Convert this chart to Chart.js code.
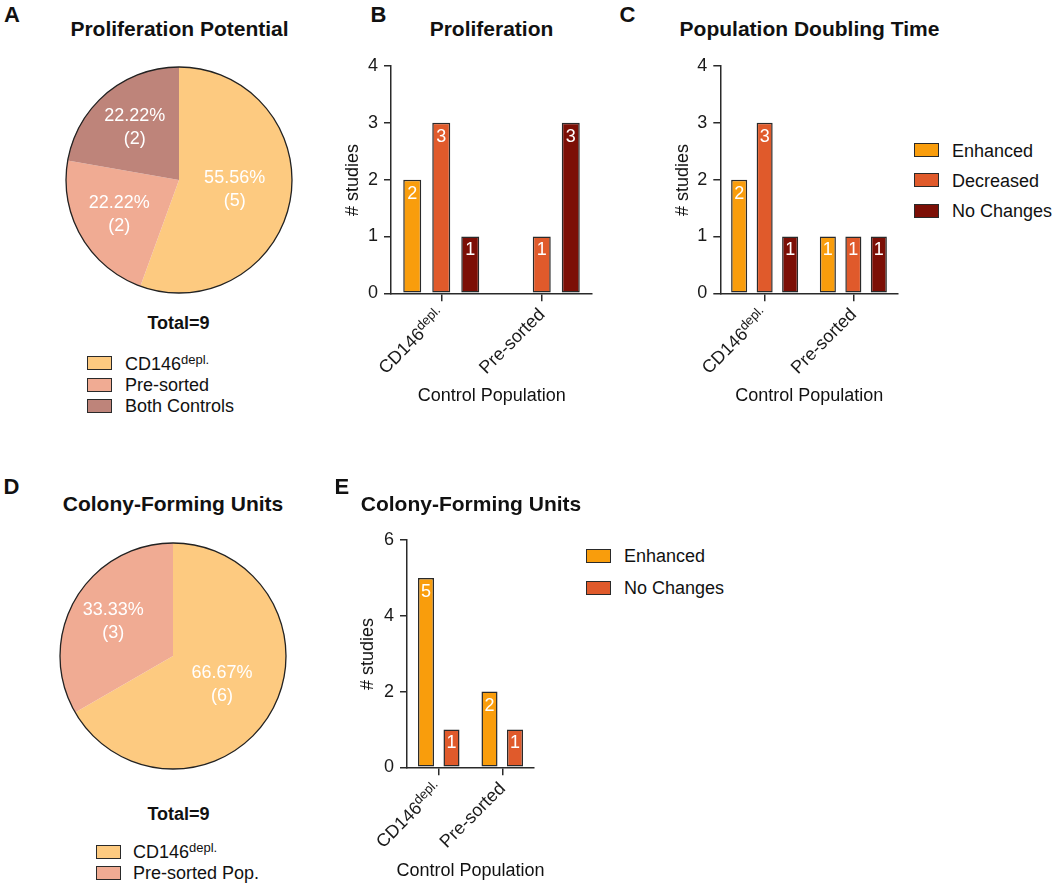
<!DOCTYPE html>
<html>
<head>
<meta charset="utf-8">
<script src="https://cdn.jsdelivr.net/npm/chart.js@4.4.1/dist/chart.umd.min.js"></script>
<style>
  body { margin: 0; background: #fff; }
  #page { position: relative; width: 1059px; height: 885px; overflow: hidden;
          font-family: "Liberation Sans", Arial, Helvetica, sans-serif; color: #111; }
  .t { position: absolute; white-space: nowrap; line-height: 1; }
  .sup { font-size: 13px; position: relative; top: -6px; }
  .box { position: absolute; width: 25px; height: 14px; box-sizing: border-box; border: 1.3px solid #2a2a2a; }
  canvas { position: absolute; }
</style>
</head>
<body>
<div id="page"></div>
<script>
// --- Data ---
const groupNames = ["CD146", "Pre-sorted"];
const groupSup = ["depl.", ""];

const potentialLabels = ["CD146", "Pre-sorted", "Both Controls"];
const potentialSup = ["depl.", "", ""];
const potentialCounts = [5, 2, 2];

const prolifEnhanced = [2, null];
const prolifDecreased = [3, 1];
const prolifNoChange = [1, 3];

const pdtEnhanced = [2, 1];
const pdtDecreased = [3, 1];
const pdtNoChange = [1, 1];

const cfuPieLabels = ["CD146", "Pre-sorted Pop."];
const cfuPieSup = ["depl.", ""];
const cfuPieCounts = [6, 3];

const cfuEnhanced = [5, 2];
const cfuNoChange = [1, 1];

const ticksBC = [0, 1, 2, 3, 4];
const ticksE = [0, 2, 4, 6];

// --- Style ---
const FONT = '"Liberation Sans", Arial, Helvetica, sans-serif';
const ORANGE = "#f99d0c", RED = "#e05a2b", MAROON = "#7c0f06";
const PIE_COLORS = ["#fdca80", "#f0ab93", "#be847a"];
const INK = "#1a1a1a", AXIS = "#2a2a2a";

Chart.defaults.font.family = FONT;

const page = document.getElementById("page");

// y is the centre of the capitals
function text(html, x, y, size, opts = {}) {
  const d = document.createElement("div");
  d.className = "t";
  d.innerHTML = html;
  d.style.fontSize = size + "px";
  d.style.fontWeight = opts.bold ? "bold" : "normal";
  d.style.left = x + "px";
  d.style.top = (y - 0.4885 * size) + "px";
  if (opts.center) d.style.transform = "translateX(-50%)";
  if (opts.rotate) {
    d.style.top = (y - size / 2) + "px";
    d.style.transform = "translate(-50%, 0) rotate(-90deg)";
  }
  page.appendChild(d);
}

function withSup(name, sup) {
  return sup ? name + '<span class="sup">' + sup + "</span>" : name;
}

function legend(names, sups, colors, boxX, rowsY, textX) {
  names.forEach((n, i) => {
    const b = document.createElement("div");
    b.className = "box";
    b.style.left = boxX + "px";
    b.style.top = (rowsY[i] - 7) + "px";
    b.style.background = colors[i];
    page.appendChild(b);
    text(withSup(n, sups[i]), textX, rowsY[i] + 0.5, 18);
  });
}

function makeCanvas(left, top, w, h) {
  const c = document.createElement("canvas");
  c.width = w; c.height = h;
  c.style.left = left + "px"; c.style.top = top + "px";
  c.style.width = w + "px"; c.style.height = h + "px";
  page.appendChild(c);
  return c;
}

// --- Plugins ---
const pieDecor = {
  id: "pieDecor",
  afterDatasetsDraw(chart) {
    const ctx = chart.ctx;
    const meta = chart.getDatasetMeta(0);
    const vals = chart.data.datasets[0].data;
    const total = vals.reduce((a, b) => a + b, 0);
    const a0 = meta.data[0];
    ctx.save();
    ctx.beginPath();
    ctx.arc(a0.x, a0.y, a0.outerRadius, 0, Math.PI * 2);
    ctx.lineWidth = 1.3;
    ctx.strokeStyle = "#222";
    ctx.stroke();
    ctx.fillStyle = "#fff";
    ctx.font = "18px " + FONT;
    ctx.textAlign = "center";
    ctx.textBaseline = "middle";
    meta.data.forEach((arc, i) => {
      const mid = (arc.startAngle + arc.endAngle) / 2;
      const f = arc.endAngle - arc.startAngle > Math.PI ? 0.5 : 0.61;
      const cx = arc.x + Math.cos(mid) * arc.outerRadius * f;
      const cy = arc.y + Math.sin(mid) * arc.outerRadius * f;
      ctx.fillText((vals[i] / total * 100).toFixed(2) + "%", cx, cy - 11.5);
      ctx.fillText("(" + vals[i] + ")", cx, cy + 11.5);
    });
    ctx.restore();
  }
};

const barValueLabels = {
  id: "barValueLabels",
  afterDatasetsDraw(chart) {
    const ctx = chart.ctx;
    ctx.save();
    ctx.font = "18px " + FONT;
    ctx.fillStyle = "#fff";
    ctx.textAlign = "center";
    ctx.textBaseline = "middle";
    chart.data.datasets.forEach((ds, i) => {
      chart.getDatasetMeta(i).data.forEach((bar, j) => {
        if (ds.data[j] == null) return;
        ctx.fillText(String(ds.data[j]), bar.x, bar.y + 14);
      });
    });
    ctx.restore();
  }
};

// rotated category labels with superscript
const groupTickLabels = {
  id: "groupTickLabels",
  afterDraw(chart) {
    const ctx = chart.ctx;
    const xs = chart.scales.x;
    const y0 = chart.chartArea.bottom + 22;
    chart.data.labels.forEach((name, i) => {
      ctx.save();
      ctx.translate(xs.getPixelForValue(i) + 4, y0);
      ctx.rotate(-Math.PI / 4);
      ctx.textAlign = "right";
      ctx.textBaseline = "alphabetic";
      ctx.fillStyle = INK;
      let end = 0;
      if (groupSup[i]) {
        ctx.font = "13px " + FONT;
        ctx.fillText(groupSup[i], 0, -6);
        end = -ctx.measureText(groupSup[i]).width;
      }
      ctx.font = "18px " + FONT;
      ctx.fillText(name, end, 0);
      ctx.restore();
    });
  }
};

// --- Charts ---
function pieChart(left, top, labels, counts) {
  const c = makeCanvas(left, top, 240, 240);
  new Chart(c, {
    type: "pie",
    data: {
      labels: labels,
      datasets: [{ data: counts, backgroundColor: PIE_COLORS.slice(0, counts.length), borderWidth: 0, radius: 113 }]
    },
    options: {
      responsive: false,
      animation: false,
      layout: { padding: 0 },
      plugins: { legend: { display: false }, tooltip: { enabled: false } }
    },
    plugins: [pieDecor]
  });
}

function barChart(left, top, w, h, series, ticks, fit) {
  const c = makeCanvas(left, top, w, h);
  new Chart(c, {
    type: "bar",
    data: {
      labels: groupNames,
      datasets: series.map(s => ({
        label: s.name,
        data: s.data,
        backgroundColor: s.color,
        borderColor: AXIS,
        borderWidth: 1.5,
        borderSkipped: false,
        categoryPercentage: fit.cat,
        barPercentage: fit.bar
      }))
    },
    options: {
      responsive: false,
      animation: false,
      layout: { padding: { top: fit.top, right: fit.right, left: 0, bottom: 0 } },
      plugins: { legend: { display: false }, tooltip: { enabled: false } },
      scales: {
        x: {
          ticks: { display: false },
          grid: { offset: false, drawOnChartArea: false, drawTicks: true, tickLength: 8, color: AXIS, lineWidth: 1.5 },
          border: { color: AXIS, width: 1.5 },
          afterFit: s => { s.height = fit.xh; }
        },
        y: {
          min: ticks[0],
          max: ticks[ticks.length - 1],
          ticks: { stepSize: ticks[1] - ticks[0], color: INK, font: { size: 18 }, padding: 6 },
          grid: { drawOnChartArea: false, drawTicks: true, tickLength: 7, color: AXIS, lineWidth: 1.5 },
          border: { color: AXIS, width: 1.5 },
          afterFit: s => { s.width = fit.yw; }
        }
      }
    },
    plugins: [barValueLabels, groupTickLabels]
  });
}

// --- A: Proliferation Potential ---
text("A", 4, 15, 22, { bold: true });
text("Proliferation Potential", 179.5, 28.5, 21, { bold: true, center: true });
pieChart(59, 60, potentialLabels, potentialCounts);
text("Total=9", 178.5, 322.5, 18, { bold: true, center: true });
legend(potentialLabels, potentialSup, PIE_COLORS, 87, [363, 384.5, 405.5], 125);

// --- B: Proliferation ---
text("B", 370.5, 15, 22, { bold: true });
text("Proliferation", 491.5, 28.5, 21, { bold: true, center: true });
barChart(330, 40, 280, 350, [
  { name: "Enhanced", data: prolifEnhanced, color: ORANGE },
  { name: "Decreased", data: prolifDecreased, color: RED },
  { name: "No Changes", data: prolifNoChange, color: MAROON }
], ticksBC, { yw: 61, top: 26, right: 18, xh: 96.7, cat: 0.866, bar: 0.62 });
text("# studies", 351.7, 180, 18, { rotate: true });
text("Control Population", 491.7, 395, 18, { center: true });

// --- C: Population Doubling Time ---
text("C", 619.5, 15, 22, { bold: true });
text("Population Doubling Time", 809.5, 28.5, 21, { bold: true, center: true });
barChart(690, 40, 220, 350, [
  { name: "Enhanced", data: pdtEnhanced, color: ORANGE },
  { name: "Decreased", data: pdtDecreased, color: RED },
  { name: "No Changes", data: pdtNoChange, color: MAROON }
], ticksBC, { yw: 30.3, top: 26, right: 12.3, xh: 96.7, cat: 0.862, bar: 0.63 });
text("# studies", 681.7, 180, 18, { rotate: true });
text("Control Population", 809.2, 395, 18, { center: true });
legend(["Enhanced", "Decreased", "No Changes"], ["", "", ""], [ORANGE, RED, MAROON], 914, [150, 180, 210.5], 952);

// --- D: Colony-Forming Units (pie) ---
text("D", 3.5, 487, 22, { bold: true });
text("Colony-Forming Units", 173, 503, 21, { bold: true, center: true });
pieChart(52.7, 536, cfuPieLabels, cfuPieCounts);
text("Total=9", 178.5, 814, 18, { bold: true, center: true });
legend(cfuPieLabels, cfuPieSup, PIE_COLORS, 95.7, [851.5, 872.5], 133);

// --- E: Colony-Forming Units (bars) ---
text("E", 334.5, 487, 22, { bold: true });
text("Colony-Forming Units", 471, 503, 21, { bold: true, center: true });
barChart(365, 515, 180, 350, [
  { name: "Enhanced", data: cfuEnhanced, color: ORANGE },
  { name: "No Changes", data: cfuNoChange, color: RED }
], ticksE, { yw: 42, top: 25, right: 11, xh: 97.7, cat: 0.803, bar: 0.63 });
text("# studies", 366.7, 654, 18, { rotate: true });
text("Control Population", 470.5, 869.3, 18, { center: true });
legend(["Enhanced", "No Changes"], ["", ""], [ORANGE, RED], 586, [555.7, 587.7], 624);
</script>
</body>
</html>
